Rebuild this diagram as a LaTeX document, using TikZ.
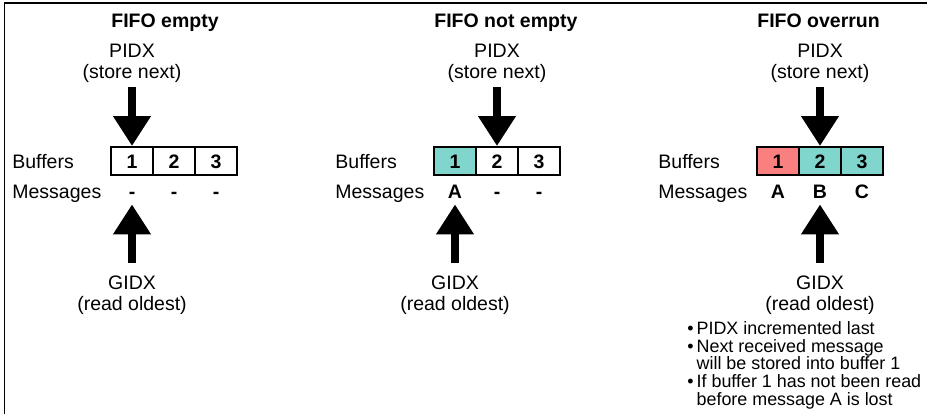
\documentclass[tikz,border=0pt]{standalone}
\usepackage{fontspec}
\setmainfont{Liberation Sans}
\usetikzlibrary{arrows.meta}
\definecolor{bufteal}{RGB}{128,214,204}
\definecolor{bufred}{RGB}{250,128,128}

\begin{document}
\begin{tikzpicture}[x=0.5pt,y=-0.5pt,
  every node/.style={font=\fontsize{9.75}{10.5}\selectfont,inner sep=0pt},
  fifotitle/.style={font=\fontsize{9.75}{10.5}\selectfont\bfseries,anchor=base west},
  rowlabel/.style={anchor=base west},
  cell/.style={draw,line width=1pt,minimum width=21pt,minimum height=14pt,text height=7pt,text depth=0pt,font=\fontsize{9.75}{10.5}\selectfont\bfseries},
  msg/.style={text height=7pt,text depth=0pt,font=\fontsize{9.75}{10.5}\selectfont\bfseries},
  ptr/.style={align=center},
  notes/.style={align=left,anchor=north west,font=\fontsize{8.95}{8.9}\selectfont},
  bigarrow/.style={line width=4pt,-{Triangle[width=18pt,length=15pt]}}]
  \useasboundingbox (0,0) rectangle (927,414);
  \draw[line width=0.75pt] (4.5,414) -- (4.5,3) -- (927,3);

  % FIFO empty
  \node[fifotitle] (etitle) at (111,27) {FIFO empty};
  \node[ptr,anchor=south] (epidx) at (132,83) {PIDX\\(store next)};
  \node[rowlabel] (ebuf) at (12,168) {Buffers};
  \node[rowlabel] (emsg) at (12,198) {Messages};
  \node[cell] (eb1) at (132,161) {1};
  \node[cell] (eb2) at (174,161) {2};
  \node[cell] (eb3) at (216,161) {3};
  \node[msg] (em1) at (132,191) {-};
  \node[msg] (em2) at (174,191) {-};
  \node[msg] (em3) at (216,191) {-};
  \node[ptr,anchor=north] (egidx) at (132,275) {GIDX\\(read oldest)};
  \draw[bigarrow,shorten <=2pt] (epidx) -- (eb1);
  \draw[bigarrow,shorten <=6pt,shorten >=3pt] (egidx) -- (em1);

  % FIFO not empty
  \begin{scope}[xshift=161.5pt]
  \node[fifotitle] (ntitle) at (111,27) {FIFO not empty};
  \node[ptr,anchor=south] (npidx) at (174,83) {PIDX\\(store next)};
  \node[rowlabel] (nbuf) at (12,168) {Buffers};
  \node[rowlabel] (nmsg) at (12,198) {Messages};
  \node[cell,fill=bufteal] (nb1) at (132,161) {1};
  \node[cell] (nb2) at (174,161) {2};
  \node[cell] (nb3) at (216,161) {3};
  \node[msg] (nm1) at (132,191) {A};
  \node[msg] (nm2) at (174,191) {-};
  \node[msg] (nm3) at (216,191) {-};
  \node[ptr,anchor=north] (ngidx) at (132,275) {GIDX\\(read oldest)};
  \draw[bigarrow,shorten <=2pt] (npidx) -- (nb2);
  \draw[bigarrow,shorten <=6pt,shorten >=3pt] (ngidx) -- (nm1);
  \end{scope}

  % FIFO overrun
  \begin{scope}[xshift=323pt]
  \node[fifotitle] (otitle) at (111,27) {FIFO overrun};
  \node[ptr,anchor=south] (opidx) at (174,83) {PIDX\\(store next)};
  \node[rowlabel] (obuf) at (12,168) {Buffers};
  \node[rowlabel] (omsg) at (12,198) {Messages};
  \node[cell,fill=bufred] (ob1) at (132,161) {1};
  \node[cell,fill=bufteal] (ob2) at (174,161) {2};
  \node[cell,fill=bufteal] (ob3) at (216,161) {3};
  \node[msg] (om1) at (132,191) {A};
  \node[msg] (om2) at (174,191) {B};
  \node[msg] (om3) at (216,191) {C};
  \node[ptr,anchor=north] (ogidx) at (174,275) {GIDX\\(read oldest)};
  \draw[bigarrow,shorten <=2pt] (opidx) -- (ob2);
  \draw[bigarrow,shorten <=6pt,shorten >=3pt] (ogidx) -- (om2);
  \node[notes] (onotes) at (41,321) {\textbullet\,PIDX incremented last\\
    \textbullet\,Next received message\\
    \phantom{\textbullet\,}will be stored into buffer 1\\
    \textbullet\,If buffer 1 has not been read\\
    \phantom{\textbullet\,}before message A is lost};
  \end{scope}
\end{tikzpicture}
\end{document}
